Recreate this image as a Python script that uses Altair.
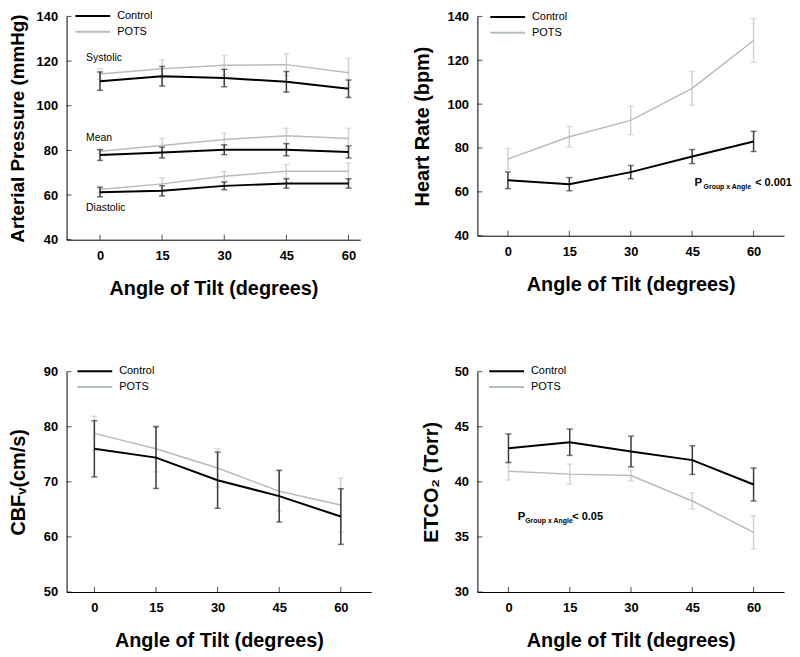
import altair as alt
import pandas as pd

# ---------------- data ----------------
angles = [0, 15, 30, 45, 60]
series = ["Control", "POTS"]

# Arterial pressure (mmHg)
sys_control = [111.0, 113.2, 112.4, 110.7, 107.6]
sys_control_err = [4.1, 4.4, 3.9, 4.6, 3.9]
sys_pots = [114.2, 116.6, 118.1, 118.4, 114.8]
sys_pots_err = [2.4, 4.0, 4.4, 4.9, 6.5]
mean_control = [77.9, 79.0, 80.3, 80.3, 79.3]
mean_control_err = [2.4, 2.4, 2.2, 2.7, 2.7]
mean_pots = [79.6, 82.2, 84.9, 86.5, 85.3]
mean_pots_err = [1.0, 3.1, 2.8, 3.4, 4.6]
dia_control = [61.3, 61.9, 64.1, 65.2, 65.2]
dia_control_err = [2.1, 2.3, 1.7, 2.1, 2.1]
dia_pots = [62.5, 65.0, 68.4, 70.7, 70.7]
dia_pots_err = [1.5, 2.7, 2.2, 3.0, 3.7]
bp_labels = ["Systolic", "Mean", "Diastolic"]
bp_label_y = [121.3, 85.5, 54.4]

# Heart rate (bpm)
hr_control = [65.3, 63.5, 69.0, 76.1, 83.0]
hr_control_err = [3.8, 3.0, 3.0, 3.2, 4.6]
hr_pots = [75.0, 85.1, 92.6, 107.2, 129.0]
hr_pots_err = [4.8, 4.7, 6.5, 7.7, 10.0]

# CBFv (cm/s)
cbf_control = [76.0, 74.4, 70.3, 67.4, 63.7]
cbf_control_err = [5.1, 5.6, 5.1, 4.7, 5.05]
cbf_pots = [78.8, 76.0, 72.5, 68.3, 65.8]
cbf_pots_err = [3.1, 4.2, 3.5, 3.6, 4.9]

# ETCO2 (Torr)
et_control = [43.05, 43.6, 42.75, 41.97, 39.76]
et_control_err = [1.3, 1.2, 1.4, 1.3, 1.5]
et_pots = [40.96, 40.7, 40.57, 38.26, 35.42]
et_pots_err = [0.8, 0.9, 0.5, 0.75, 1.5]

bp_ticks = [40, 60, 80, 100, 120, 140]
hr_ticks = [40, 60, 80, 100, 120, 140]
cbf_ticks = [50, 60, 70, 80, 90]
et_ticks = [30, 35, 40, 45, 50]

# ---------------- styling ----------------
FONT = "Liberation Sans"
LINE_COLORS = ["#000000", "#b3bfbb"]
ERR_COLORS = {"Control": "#3a3a3a", "POTS": "#d2d2d2"}
LINE_WIDTH = {"Control": 2.0, "POTS": 1.5}
X_TITLE = "Angle of Tilt (degrees)"
LEGEND_SYMBOL = "M-4,0H4"   # long, flat stroke for the legend key


def build_df(groups):
    rows = []
    for measure, name, vals, errs in groups:
        for a, v, e in zip(angles, vals, errs):
            rows.append({"angle": a, "value": v, "lo": v - e, "hi": v + e,
                         "series": name, "measure": measure})
    return pd.DataFrame(rows)


def panel(df, xdom, ydom, yticks, width, height, ytitle, ytitle_pad,
          legend_xy, texts=None, annot=None, ytitle_size=20):
    xscale = alt.Scale(domain=xdom, nice=False, zero=False)
    yscale = alt.Scale(domain=ydom, nice=False, zero=False)
    xaxis = alt.Axis(values=angles, title=X_TITLE, ticks=False, grid=False,
                     labelFont=FONT, labelFontSize=13, labelFontWeight="bold",
                     labelColor="black", labelPadding=10,
                     titleFont=FONT, titleFontSize=20, titleFontWeight="bold",
                     titleColor="black", titlePadding=16,
                     domainColor="black", domainWidth=1, format="d")
    yaxis = alt.Axis(values=yticks, title=ytitle, ticks=False, grid=False,
                     labelFont=FONT, labelFontSize=13, labelFontWeight="bold",
                     labelColor="black", labelPadding=9,
                     titleFont=FONT, titleFontSize=ytitle_size,
                     titleFontWeight="bold",
                     titleColor="black", titlePadding=ytitle_pad,
                     domainColor="black", domainWidth=1, format="d")

    def X(field):
        return alt.X(field, type="quantitative", scale=xscale, axis=xaxis)

    def Y(field):
        return alt.Y(field, type="quantitative", scale=yscale, axis=yaxis)

    layers = []
    # inward tick marks on both axes
    xt = pd.DataFrame({"angle": angles, "value": [ydom[0]] * len(angles)})
    layers.append(alt.Chart(xt).mark_tick(orient="vertical", size=5, thickness=1,
                                          color="black", yOffset=-2.5)
                  .encode(x=X("angle"), y=Y("value")))
    yt = pd.DataFrame({"angle": [xdom[0]] * len(yticks), "value": yticks})
    layers.append(alt.Chart(yt).mark_tick(orient="horizontal", size=5, thickness=1,
                                          color="black", xOffset=2.5)
                  .encode(x=X("angle"), y=Y("value")))

    color = alt.Color("series:N",
                      scale=alt.Scale(domain=series, range=LINE_COLORS),
                      legend=alt.Legend(title=None, orient="none",
                                        legendX=legend_xy[0], legendY=legend_xy[1],
                                        symbolType=LEGEND_SYMBOL, symbolSize=77,
                                        symbolStrokeWidth=2, labelFont=FONT,
                                        labelFontSize=11, labelColor="black",
                                        labelOffset=19, rowPadding=4, padding=0))

    for name in ["POTS", "Control"]:
        sub = df[df["series"] == name]
        base = alt.Chart(sub)
        layers.append(base.mark_rule(color=ERR_COLORS[name], strokeWidth=1.5)
                      .encode(x=X("angle"), y=Y("lo"), y2="hi"))
        layers.append(base.mark_tick(orient="horizontal", size=6, thickness=1.5,
                                     color=ERR_COLORS[name])
                      .encode(x=X("angle"), y=Y("lo")))
        layers.append(base.mark_tick(orient="horizontal", size=6, thickness=1.5,
                                     color=ERR_COLORS[name])
                      .encode(x=X("angle"), y=Y("hi")))
        layers.append(base.mark_line(strokeWidth=LINE_WIDTH[name])
                      .encode(x=X("angle"), y=Y("value"), color=color,
                              detail="measure:N"))

    if texts is not None:
        layers.append(alt.Chart(texts).mark_text(align="left", baseline="middle",
                                                 font=FONT, fontSize=10.5,
                                                 color="black")
                      .encode(x=X("angle"), y=Y("value"), text="label:N"))
    if annot is not None:
        ax, ay, subdx, restdx, rest = annot
        a_df = pd.DataFrame({"angle": [ax], "value": [ay]})
        b = alt.Chart(a_df)
        layers.append(b.mark_text(align="left", baseline="middle", font=FONT,
                                  fontSize=11.5, fontWeight="bold", color="black",
                                  text="P")
                      .encode(x=X("angle"), y=Y("value")))
        layers.append(b.mark_text(align="left", baseline="middle", font=FONT,
                                  fontSize=7, fontWeight="bold", color="black",
                                  text="Group x Angle", dx=subdx, dy=4)
                      .encode(x=X("angle"), y=Y("value")))
        layers.append(b.mark_text(align="left", baseline="middle", font=FONT,
                                  fontSize=11, fontWeight="bold", color="black",
                                  text=rest, dx=restdx)
                      .encode(x=X("angle"), y=Y("value")))

    return alt.layer(*layers).properties(width=width, height=height)


bp_df = build_df([
    ("sys", "Control", sys_control, sys_control_err),
    ("sys", "POTS", sys_pots, sys_pots_err),
    ("mean", "Control", mean_control, mean_control_err),
    ("mean", "POTS", mean_pots, mean_pots_err),
    ("dia", "Control", dia_control, dia_control_err),
    ("dia", "POTS", dia_pots, dia_pots_err),
])
hr_df = build_df([("hr", "Control", hr_control, hr_control_err),
                  ("hr", "POTS", hr_pots, hr_pots_err)])
cbf_df = build_df([("cbf", "Control", cbf_control, cbf_control_err),
                   ("cbf", "POTS", cbf_pots, cbf_pots_err)])
et_df = build_df([("et", "Control", et_control, et_control_err),
                  ("et", "POTS", et_pots, et_pots_err)])

bp_text = pd.DataFrame({"angle": [-3.35] * 3, "value": bp_label_y, "label": bp_labels})

tl = panel(bp_df, [-8.07, 62.85], [40, 140], bp_ticks, 296, 225,
           "Arterial Pressure (mmHg)", 9, (21, -6), texts=bp_text,
           ytitle_size=19)
tr = panel(hr_df, [-7.44, 67.44], [40, 140], hr_ticks, 309, 221,
           "Heart Rate (bpm)", 15, (25, -5),
           annot=(45.6, 64.0, 9, 61, "< 0.001"))
bl = panel(cbf_df, [-6.77, 67.4], [50, 90], cbf_ticks, 307, 222,
           "CBF\u1d65(cm/s)", 15, (23, -6))
br = panel(et_df, [-7.6, 67.46], [30, 50], et_ticks, 309, 222,
           "ETCO\u2082 (Torr)", 13, (24, -6),
           annot=(2.28, 36.82, 7.5, 55, "< 0.05"))

chart = (alt.concat(tl, tr, bl, br, columns=2,
                    spacing=alt.RowColnumber(row=133, column=107),
                    bounds="flush")
         .resolve_scale(color="independent")
         .resolve_legend(color="independent")
         .properties(padding=0, background="white")
         .configure_view(stroke=None))

chart.save("out.html", embed_options={"renderer": "svg", "actions": False})
